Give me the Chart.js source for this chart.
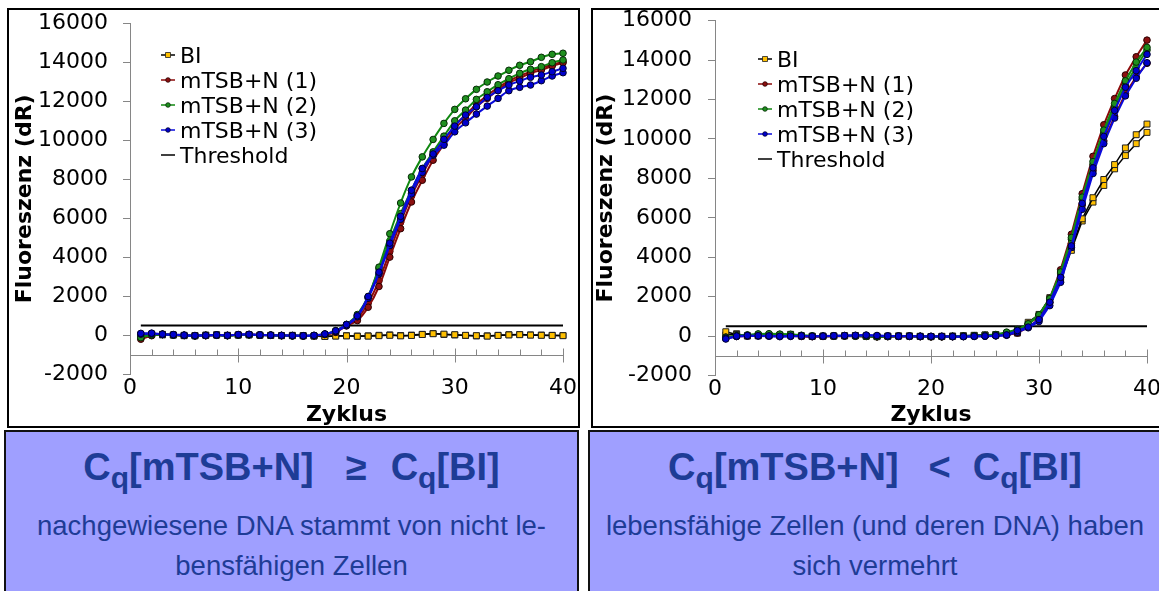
<!DOCTYPE html>
<html>
<head>
<meta charset="utf-8">
<script src="https://cdn.jsdelivr.net/npm/chart.js@4.4.1/dist/chart.umd.min.js"></script>
<style>
  body { margin: 0; width: 1159px; height: 591px; overflow: hidden; background: #fff; position: relative; }
  .frame { position: absolute; top: 8px; height: 420px; border: 2px solid #000; box-sizing: border-box; background: #fff; overflow: hidden; }
  #frameL { left: 7px; width: 573px; }
  #frameR { left: 591px; width: 580px; }
  .frame canvas { display: block; }
  .note { position: absolute; top: 430px; height: 180px; border: 2px solid #111; box-sizing: border-box;
          background: #9f9fff; color: #1e3c96; text-align: center; font-family: "Liberation Sans", Arial, sans-serif; }
  #noteL { left: 4px; width: 575px; }
  #noteR { left: 588px; width: 574px; }
  .note .head { position: absolute; left: 0; right: 0; top: 16px; font-size: 38px; line-height: 38px; font-weight: bold; white-space: nowrap; }
  .note .head sub { font-size: 30px; vertical-align: baseline; position: relative; top: 8px; }
  .note .head .op { margin: 0 24px 0 32px; }
  #noteR .head .op { margin: 0 22px 0 30px; }
  .note .body { position: absolute; left: 0; right: 0; top: 74px; font-size: 27.5px; line-height: 40px; }
</style>
</head>
<body>
<div class="frame" id="frameL"><canvas id="chartL" width="569" height="416"></canvas></div>
<div class="frame" id="frameR"><canvas id="chartR" width="576" height="416"></canvas></div>

<div class="note" id="noteL">
  <div class="head">C<sub>q</sub>[mTSB+N]<span class="op">≥</span>C<sub>q</sub>[BI]</div>
  <div class="body">nachgewiesene DNA stammt von nicht le-<br>bensfähigen Zellen</div>
</div>
<div class="note" id="noteR">
  <div class="head">C<sub>q</sub>[mTSB+N]<span class="op">&lt;</span>C<sub>q</sub>[BI]</div>
  <div class="body">lebensfähige Zellen (und deren DNA) haben<br>sich vermehrt</div>
</div>

<script>
// cycles on the x axis
const CYCLES = [1, 2, 3, 4, 5, 6, 7, 8, 9, 10, 11, 12, 13, 14, 15, 16, 17, 18, 19, 20,
  21, 22, 23, 24, 25, 26, 27, 28, 29, 30, 31, 32, 33, 34, 35, 36, 37, 38, 39, 40];
const THRESHOLD = 500;
const AXIS_CROSS = -1000;

// left chart: two replicates per sample
const leftBI1 = [30, 60, 20, 10, -20, -30, 0, 10, -10, 20, 30, 10, -10, -20, 0, -30, -40, -60, -40, -30,
  -50, -40, -20, 0, -30, -10, 40, 80, 60, 30, 0, -20, -40, -10, 20, 30, 10, 0, -10, -20];
const leftBI2 = [-20, 40, 50, 20, 0, -10, 10, 30, 0, 10, 20, 0, 0, -10, -20, -10, -30, -50, -30, -20,
  -40, -30, 0, 20, -10, 10, 50, 90, 40, 20, -10, -30, -30, 0, 30, 40, 20, 10, 0, -10];
const leftR1 = [-200, -20, 40, 30, 0, -30, -20, 0, -20, 20, 40, 10, 0, -20, -20, -40, -30, 40, 150, 480,
  755, 1439, 2503, 4009, 5469, 6836, 7951, 8980, 9802, 10609, 11123, 11720, 12150, 12578, 12953, 13180, 13436, 13606, 13811, 13980];
const leftR2 = [-150, 0, 60, 20, -10, -20, -10, 10, -10, 30, 30, 20, 10, -10, -30, -30, -20, 50, 170, 520,
  860, 1650, 2800, 4300, 5800, 7150, 8250, 9230, 10000, 10750, 11300, 11850, 12300, 12700, 13050, 13300, 13520, 13720, 13880, 14030];
const leftG1 = [-120, 30, 50, 20, 0, -20, -10, 10, -20, 20, 30, 10, 0, -10, -30, -20, -10, 60, 240, 560,
  1064, 1989, 3495, 5210, 6785, 8121, 9150, 10043, 10866, 11585, 12130, 12613, 12989, 13297, 13590, 13846, 14030, 14256, 14410, 14464];
const leftG2 = [-80, 20, 40, 10, -10, -30, 0, 20, -10, 10, 20, 20, 10, -20, -20, -30, -20, 50, 220, 550,
  1000, 1953, 3413, 4832, 6240, 7438, 8553, 9406, 10213, 11000, 11550, 12098, 12490, 12850, 13160, 13436, 13640, 13775, 13980, 14120];
const leftB1 = [100, 110, 60, 40, 10, -10, 0, 20, 0, 40, 50, 20, 10, 0, -10, -20, 0, 70, 230, 550,
  1000, 1989, 3238, 4729, 6101, 7438, 8553, 9300, 10050, 10728, 11293, 11720, 12200, 12542, 12835, 13040, 13230, 13349, 13518, 13692];
const leftB2 = [60, 90, 40, 20, 0, -20, -10, 10, -10, 30, 40, 10, 0, -10, -20, -30, -10, 60, 200, 500,
  950, 1900, 3150, 4600, 5950, 7250, 8350, 9236, 9750, 10434, 10897, 11344, 11755, 12150, 12542, 12716, 12835, 13056, 13297, 13467];

// right chart
const rightBI1 = [220, 80, 20, 30, 40, 50, 60, 20, 0, 0, 10, 20, 30, 0, -20, 0, 10, 10, -10, -20,
  -10, 0, 20, 40, 60, 80, 120, 250, 700, 1100, 1950, 3000, 4500, 5950, 7020, 7944, 8701, 9545, 10216, 10756];
const rightBI2 = [60, 120, 0, 10, 20, 30, 90, 0, -20, -10, 0, 10, 20, -10, -30, -10, 0, 0, -20, -30,
  -20, -10, 10, 30, 50, 70, 100, 150, 600, 1000, 1800, 2850, 4350, 5838, 6797, 7641, 8484, 9156, 9762, 10333];
const rightR1 = [-50, 0, 20, 30, 20, 10, 30, -10, -20, -10, 0, 10, 0, -10, -30, -20, -10, -10, -20, -30,
  -30, -20, -10, 0, 10, 40, 116, 200, 620, 1040, 1919, 3363, 5166, 7222, 9120, 10721, 12050, 13246, 14170, 15014];
const rightR2 = [-100, -20, 0, 20, 10, 0, 20, -20, -30, -20, -10, 0, -10, -20, -40, -30, -20, -20, -30, -40,
  -40, -30, -20, -10, 0, 20, 60, 150, 450, 850, 1700, 3000, 4700, 6650, 8400, 9900, 11150, 12300, 13150, 13837];
const rightG1 = [-100, 30, 60, 110, 120, 100, 90, 40, 10, 0, 10, 20, 10, 0, -20, -10, 0, 0, -10, -20,
  -20, -10, 0, 20, 40, 80, 200, 330, 620, 1080, 1900, 3250, 5000, 7050, 8850, 10450, 11800, 12950, 13900, 14645];
const rightG2 = [-60, 20, 40, 90, 100, 80, 70, 30, 0, -10, 0, 10, 0, -10, -30, -20, -10, -10, -20, -30,
  -30, -20, -10, 10, 30, 60, 150, 300, 600, 1076, 1884, 3197, 4914, 6934, 8701, 10302, 11615, 12740, 13665, 14510];
const rightB1 = [-150, 0, 30, 20, 10, -10, 0, 10, -10, 0, 20, 30, 40, 50, 30, 10, 0, 0, -10, -10,
  -10, -20, -20, -10, 0, 20, 60, 283, 455, 838, 1717, 2980, 4575, 6732, 8535, 10130, 11443, 12625, 13464, 14291];
const rightB2 = [-120, -20, 10, 0, -10, -30, -20, 0, -20, -10, 10, 20, 30, 40, 20, 0, -10, -10, -20, -20,
  -20, -30, -30, -20, -10, 10, 40, 200, 420, 737, 1545, 2727, 4494, 6429, 8247, 9762, 11060, 12186, 13080, 13867];

const styles = {
  "BI": { borderColor: "#000", borderWidth: 1.5, pointStyle: "rect", pointRadius: 4.2,
    pointBackgroundColor: "#ffc000", pointBorderColor: "#222", pointBorderWidth: 1, order: 3 },
  "mTSB+N (1)": { borderColor: "#8b0a0a", borderWidth: 2, pointStyle: "circle", pointRadius: 3.3,
    pointBackgroundColor: "#8b1010", pointBorderColor: "#2a0000", pointBorderWidth: 1, order: 2 },
  "mTSB+N (2)": { borderColor: "#118811", borderWidth: 2, pointStyle: "circle", pointRadius: 3.3,
    pointBackgroundColor: "#1e8f1e", pointBorderColor: "#062a06", pointBorderWidth: 1, order: 1 },
  "mTSB+N (3)": { borderColor: "#0a0adc", borderWidth: 2, pointStyle: "circle", pointRadius: 3.3,
    pointBackgroundColor: "#0000cc", pointBorderColor: "#00002a", pointBorderWidth: 1, order: 0 },
  "Threshold": { borderColor: "#000", borderWidth: 2, pointRadius: 0, order: 4 }
};

Chart.defaults.font.family = '"DejaVu Sans", Verdana, sans-serif';
Chart.defaults.color = "#000";

// x axis line crossing at AXIS_CROSS, with small ticks
const crossAxis = {
  id: "crossAxis",
  beforeDatasetsDraw(chart, args, opts) {
    const { ctx, chartArea, scales } = chart;
    const py = Math.round(scales.y.getPixelForValue(opts.value)) + 0.5;
    ctx.save();
    ctx.strokeStyle = "#868686";
    ctx.lineWidth = 1;
    ctx.beginPath();
    ctx.moveTo(chartArea.left, py);
    ctx.lineTo(chartArea.right, py);
    scales.x.ticks.forEach((t) => {
      const px = Math.round(scales.x.getPixelForValue(t.value)) + 0.5;
      if (t.value % 10 === 0) {
        ctx.moveTo(px, py - 7);
        ctx.lineTo(px, py + 7);
      } else {
        ctx.moveTo(px, py - 6);
        ctx.lineTo(px, py);
      }
    });
    ctx.stroke();
    ctx.restore();
  },
};

// legend inside the plot, one row per sample
const sideLegend = {
  id: "sideLegend",
  afterDraw(chart, args, opts) {
    const ctx = chart.ctx;
    const seen = [];
    ctx.save();
    ctx.font = '22px "DejaVu Sans"';
    ctx.textBaseline = "alphabetic";
    chart.data.datasets.forEach((ds) => {
      if (seen.includes(ds.label)) return;
      seen.push(ds.label);
      const y = opts.y + (seen.length - 1) * opts.step;
      const ly = y - 8;
      ctx.strokeStyle = ds.borderColor;
      ctx.lineWidth = 1.5;
      ctx.beginPath();
      ctx.moveTo(opts.x, ly);
      ctx.lineTo(opts.x + 14, ly);
      ctx.stroke();
      if (ds.pointRadius > 0) {
        ctx.fillStyle = ds.pointBackgroundColor;
        ctx.strokeStyle = ds.pointBorderColor;
        ctx.lineWidth = 0.8;
        ctx.beginPath();
        if (ds.pointStyle === "rect") ctx.rect(opts.x + 4.5, ly - 2.5, 5, 5);
        else ctx.arc(opts.x + 7, ly, 2.3, 0, Math.PI * 2);
        ctx.fill();
        ctx.stroke();
      }
      ctx.fillStyle = "#000";
      ctx.fillText(ds.label, opts.x + 19, y);
    });
    ctx.restore();
  },
};

function makeChart(id, series, cfg) {
  const datasets = [];
  series.forEach((s) => {
    s.data.forEach((vals) => {
      datasets.push(Object.assign({
        label: s.label,
        data: CYCLES.map((c, i) => ({ x: c, y: vals[i] })),
        tension: cfg.tension,
        fill: false,
        clip: false,
      }, styles[s.label]));
    });
  });
  datasets.push(Object.assign({
    label: "Threshold",
    data: CYCLES.map((c) => ({ x: c, y: THRESHOLD })),
    fill: false,
  }, styles["Threshold"]));

  return new Chart(document.getElementById(id), {
    type: "line",
    data: { datasets },
    plugins: [crossAxis, sideLegend],
    options: {
      responsive: false,
      animation: false,
      layout: { padding: cfg.padding },
      plugins: {
        legend: { display: false },
        tooltip: { enabled: false },
        crossAxis: { value: AXIS_CROSS },
        sideLegend: cfg.legend,
      },
      scales: {
        x: {
          type: "linear",
          min: 0,
          max: 40,
          grid: { display: false, drawTicks: false },
          border: { display: false },
          ticks: {
            stepSize: 2,
            autoSkip: false,
            maxRotation: 0,
            padding: 1,
            font: { size: 22 },
            callback: (v) => (v % 10 === 0 ? String(v) : ""),
          },
          title: { display: true, text: "Zyklus", font: { size: 22, weight: "bold", lineHeight: 1 }, padding: 0 },
          afterFit: (s) => {
            s.height = cfg.xHeight;
            s.paddingLeft = 0;
            s.paddingRight = 0;
          },
        },
        y: {
          min: -2000,
          max: 16000,
          grid: { drawOnChartArea: false, tickLength: 7, color: "#868686" },
          border: { color: "#868686" },
          ticks: {
            stepSize: 2000,
            padding: cfg.yTickPad,
            font: { size: 22, lineHeight: 0.8 },
            callback: (v) => String(v),
          },
          title: { display: true, text: "Fluoreszenz (dR)", font: { size: 22, weight: "bold", lineHeight: 1 },
            padding: { top: cfg.yTitlePad, bottom: 0 } },
          afterFit: (s) => {
            s.width = cfg.yWidth;
            s.paddingTop = 0;
            s.paddingBottom = 0;
          },
        },
      },
    },
  });
}

makeChart("chartL", [
  { label: "BI", data: [leftBI1, leftBI2] },
  { label: "mTSB+N (1)", data: [leftR1, leftR2] },
  { label: "mTSB+N (2)", data: [leftG1, leftG2] },
  { label: "mTSB+N (3)", data: [leftB1, leftB2] },
], {
  tension: 0.3,
  padding: { top: 13.3, right: 15, bottom: 0, left: 0 },
  xHeight: 51.7,
  yWidth: 121,
  yTickPad: 15,
  yTitlePad: 5,
  legend: { x: 152, y: 53, step: 25 },
});

makeChart("chartR", [
  { label: "BI", data: [rightBI1, rightBI2] },
  { label: "mTSB+N (1)", data: [rightR1, rightR2] },
  { label: "mTSB+N (2)", data: [rightG1, rightG2] },
  { label: "mTSB+N (3)", data: [rightB1, rightB2] },
], {
  tension: 0,
  padding: { top: 10.7, right: 22, bottom: 0, left: 0 },
  xHeight: 50.5,
  yWidth: 122,
  yTickPad: 16,
  yTitlePad: 2,
  legend: { x: 165, y: 57, step: 25 },
});
</script>
</body>
</html>
